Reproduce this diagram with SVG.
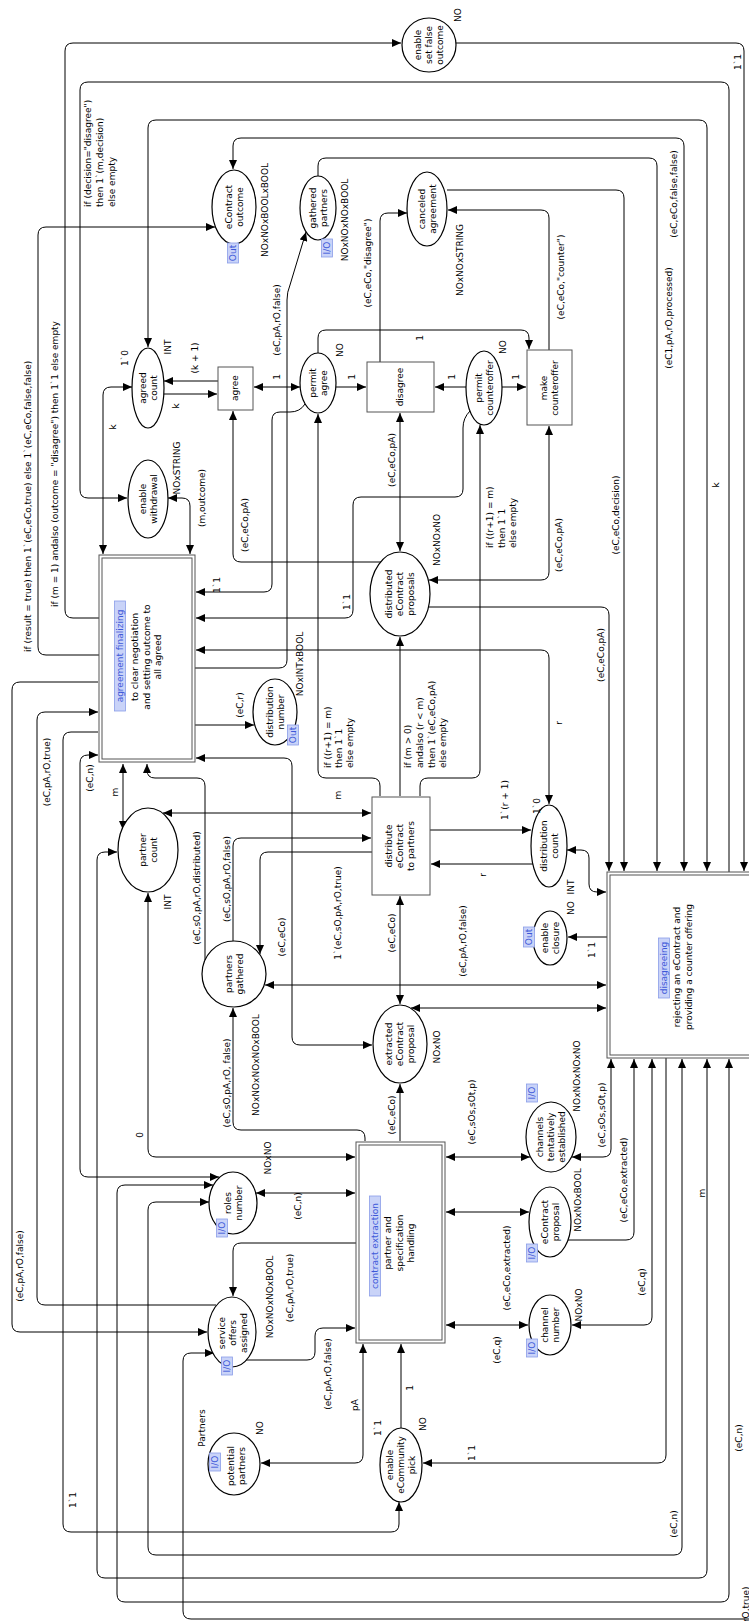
<svg xmlns="http://www.w3.org/2000/svg" width="749" height="1621" viewBox="0 0 749 1621">
<defs>
<marker id="ah" viewBox="0 0 9 8" refX="9" refY="4" markerWidth="9" markerHeight="8" markerUnits="userSpaceOnUse" orient="auto-start-reverse"><path d="M0,0 L9,4 L0,8 z" fill="#000"/></marker>
</defs>
<style>
text{font-family:"DejaVu Sans","Liberation Sans",sans-serif;font-size:9px;fill:#000}
.m{text-anchor:middle}
.s{text-anchor:start}
path.a{fill:none;stroke:#000;stroke-width:1}
.f{marker-end:url(#ah)}
.b{marker-start:url(#ah);marker-end:url(#ah)}
ellipse{fill:#fff;stroke:#000;stroke-width:1.2}
rect.t{fill:#fff;stroke:#555;stroke-width:1}
rect.i{fill:none;stroke:#555;stroke-width:1}
rect.tag{fill:#c9d3f8;stroke:#8a9de8;stroke-width:0.8}
text.tg{fill:#3d58d8}
</style>
<rect width="749" height="1621" fill="#fff"/>

<!-- arcs -->
<g id="arcs">
<path class="a f" d="M99,618 H73 Q65,618 65,610 V51 Q65,43 73,43 H401"/>
<path class="a f" d="M456,43 H736 Q744,43 744,51 V871"/>
<path class="a f" d="M729,872 V90 Q729,82 721,82 H88 Q80,82 80,90 V490 Q80,498 88,498 H127"/>
<path class="a b" d="M707,871 V128 Q707,120 699,120 H156 Q148,120 148,128 V347"/>
<path class="a b" d="M684,871 V146 Q684,138 676,138 H241 Q233,138 233,146 V169"/>
<path class="a f" d="M318,176 V166 Q318,158 326,158 H649 Q657,158 657,166 V871"/>
<path class="a f" d="M447,190 H616 Q624,190 624,198 V871"/>
<path class="a f" d="M549,350 V218 Q549,210 541,210 H448"/>
<path class="a f" d="M380,362 V221 Q380,213 388,213 H407"/>
<path class="a f" d="M318,353 V338 Q318,330 326,330 H521 Q529,330 529,338 V349"/>
<path class="a b" d="M254,387 H300"/>
<path class="a f" d="M336,387 H366"/>
<path class="a f" d="M466,387 H435"/>
<path class="a f" d="M502,387 H526"/>
<path class="a f" d="M218,381 H164"/>
<path class="a f" d="M164,394 H217"/>
<path class="a b" d="M103,554 V395 Q103,387 111,387 H132"/>
<path class="a b" d="M168,498 H182 Q190,498 190,506 V554"/>
<path class="a f" d="M99,655 H46 Q38,655 38,647 V235 Q38,227 46,227 H215"/>
<path class="a f" d="M195,668 H279 Q287,668 287,660 V300 Q287,292 290,285 L306,232"/>
<path class="a f" d="M381,562 H241 Q233,562 233,554 V411"/>
<path class="a f" d="M305,404 Q300,412 290,412 H280 Q272,412 272,420 V584 Q272,592 264,592 H196"/>
<path class="a f" d="M470,411 Q463,418 463,428 V489 Q463,497 455,497 H361 Q353,497 353,505 V610 Q353,618 345,618 H196"/>
<path class="a b" d="M196,650 H541 Q549,650 549,658 V804"/>
<path class="a f" d="M195,725 H254"/>
<path class="a b" d="M196,758 H284 Q292,758 292,766 V1037 Q292,1045 300,1045 H372"/>
<path class="a b" d="M123,830 V764"/>
<path class="a f" d="M205,960 V786 Q205,778 197,778 H155 Q147,778 147,770 V764"/>
<path class="a b" d="M163,813 H371"/>
<path class="a f" d="M233,941 V846 Q233,838 241,838 H371"/>
<path class="a f" d="M372,852 H268 Q260,852 260,860 V954"/>
<path class="a b" d="M400,896 V1004"/>
<path class="a f" d="M400,1141 V1084"/>
<path class="a f" d="M430,830 H531"/>
<path class="a f" d="M533,864 H431"/>
<path class="a b" d="M567,850 H581 Q589,850 589,858 V884 Q589,892 597,892 H606"/>
<path class="a f" d="M607,937 H568"/>
<path class="a b" d="M265,985 H606"/>
<path class="a b" d="M411,1008 H606"/>
<path class="a b" d="M400,413 V551"/>
<path class="a b" d="M549,426 V572 Q549,580 541,580 H429"/>
<path class="a f" d="M429,607 H601 Q609,607 609,615 V871"/>
<path class="a f" d="M380,796 V786 Q380,778 372,778 H326 Q318,778 318,770 V414"/>
<path class="a f" d="M400,796 V637"/>
<path class="a f" d="M420,796 V786 Q420,778 428,778 H472 Q480,778 480,770 V425"/>
<path class="a b" d="M355,1157 H156 Q148,1157 148,1149 V893"/>
<path class="a b" d="M98,755 H88 Q80,755 80,763 V1169 Q80,1177 88,1177 H219"/>
<path class="a f" d="M98,682 H20 Q12,682 12,690 V1324 Q12,1332 20,1332 H207"/>
<path class="a f" d="M216,1305 H45 Q37,1305 37,1297 V720 Q37,712 45,712 H98"/>
<path class="a f" d="M98,732 H71 Q63,732 63,740 V1524 Q63,1532 71,1532 H391 Q399,1532 399,1524 V1502"/>
<path class="a b" d="M707,1059 V1570 Q707,1578 699,1578 H105 Q97,1578 97,1570 V860 Q97,852 105,852 H117"/>
<path class="a b" d="M729,1059 V1594 Q729,1602 721,1602 H125 Q117,1602 117,1594 V1193 Q117,1185 125,1185 H213"/>
<path class="a b" d="M682,1059 V1547 Q682,1555 674,1555 H156 Q148,1555 148,1547 V1210 Q148,1202 156,1202 H209"/>
<path class="a f" d="M752,1619 H191 Q183,1619 183,1611 V1361 Q183,1353 191,1353 H214"/>
<path class="a f" d="M666,1058 V1455 Q666,1463 658,1463 H423"/>
<path class="a b" d="M363,1344 V1455 Q363,1463 355,1463 H261"/>
<path class="a f" d="M401,1428 V1344"/>
<path class="a f" d="M246,1360 H307 Q315,1360 315,1352 V1336 Q315,1328 323,1328 H355"/>
<path class="a f" d="M356,1243 H241 Q233,1243 233,1251 V1296"/>
<path class="a b" d="M256,1193 H355"/>
<path class="a f" d="M365,1141 V1138 Q365,1130 357,1130 H241 Q233,1130 233,1122 V1008"/>
<path class="a b" d="M446,1157 H530"/>
<path class="a b" d="M572,1157 H603 Q611,1157 611,1149 V1059"/>
<path class="a b" d="M446,1212 H529"/>
<path class="a f" d="M568,1240 H626 Q634,1240 634,1232 V1059"/>
<path class="a b" d="M446,1325 H528"/>
<path class="a b" d="M652,1059 V1317 Q652,1325 644,1325 H572"/>
</g>

<!-- arc inscriptions -->
<g id="arc-labels">
<text class="s" transform="translate(55,607) rotate(-90)" y="3">if (m = 1)  andalso (outcome = "disagree")  then 1`1 else empty</text>
<text class="s" transform="translate(28,652) rotate(-90)" y="3">if (result = true) then 1`(eC,eCo,true) else 1`(eC,eCo,false,false)</text>
<text class="s" transform="translate(100,207) rotate(-90)"><tspan x="0" y="-9">if (decision="disagree")</tspan><tspan x="0" y="3">then 1`(m,decision)</tspan><tspan x="0" y="15">else empty</tspan></text>
<text class="m" transform="translate(738,62) rotate(-90)" y="3">1`1</text>
<text class="m" transform="translate(674,194) rotate(-90)" y="3">(eC,eCo,false,false)</text>
<text class="m" transform="translate(669,318) rotate(-90)" y="3">(eC1,pA,rO,processed)</text>
<text class="m" transform="translate(561,277) rotate(-90)" y="3">(eC,eCo,"counter")</text>
<text class="m" transform="translate(368,263) rotate(-90)" y="3">(eC,eCo,"disagree")</text>
<text class="m" transform="translate(277,320) rotate(-90)" y="3">(eC,pA,rO,false)</text>
<text class="m" transform="translate(616,515) rotate(-90)" y="3">(eC,eCo,decision)</text>
<text class="m" transform="translate(716,485) rotate(-90)" y="3">k</text>
<text class="m" transform="translate(195,358) rotate(-90)" y="3">(k + 1)</text>
<text class="m" transform="translate(176,406) rotate(-90)" y="3">k</text>
<text class="m" transform="translate(113,427) rotate(-90)" y="3">k</text>
<text class="m" transform="translate(277,377) rotate(-90)" y="3">1</text>
<text class="m" transform="translate(352,377) rotate(-90)" y="3">1</text>
<text class="m" transform="translate(452,377) rotate(-90)" y="3">1</text>
<text class="m" transform="translate(516,377) rotate(-90)" y="3">1</text>
<text class="m" transform="translate(420,338) rotate(-90)" y="3">1</text>
<text class="m" transform="translate(202,498) rotate(-90)" y="3">(m,outcome)</text>
<text class="m" transform="translate(245,525) rotate(-90)" y="3">(eC,eCo,pA)</text>
<text class="m" transform="translate(392,460) rotate(-90)" y="3">(eC,eCo,pA)</text>
<text class="m" transform="translate(559,545) rotate(-90)" y="3">(eC,eCo,pA)</text>
<text class="m" transform="translate(601,655) rotate(-90)" y="3">(eC,eCo,pA)</text>
<text class="m" transform="translate(217,585) rotate(-90)" y="3">1`1</text>
<text class="m" transform="translate(347,602) rotate(-90)" y="3">1`1</text>
<text class="m" transform="translate(240,705) rotate(-90)" y="3">(eC,r)</text>
<text class="m" transform="translate(559,723) rotate(-90)" y="3">r</text>
<text class="s" transform="translate(328,768) rotate(-90)"><tspan x="0" y="3">if ((r+1) = m)</tspan><tspan x="0" y="14">then 1`1</tspan><tspan x="0" y="25">else empty</tspan></text>
<text class="s" transform="translate(400,768) rotate(-90)"><tspan x="0" y="11">if (m &gt; 0)</tspan><tspan x="0" y="23">andalso (r &lt; m)</tspan><tspan x="0" y="35">then 1`(eC,eCo,pA)</tspan><tspan x="0" y="46">else empty</tspan></text>
<text class="s" transform="translate(480,548) rotate(-90)"><tspan x="0" y="13">if ((r+1) = m)</tspan><tspan x="0" y="25">then 1`1</tspan><tspan x="0" y="36">else empty</tspan></text>
<text class="m" transform="translate(338,795) rotate(-90)" y="3">m</text>
<text class="m" transform="translate(115,792) rotate(-90)" y="3">m</text>
<text class="m" transform="translate(90,778) rotate(-90)" y="3">(eC,n)</text>
<text class="m" transform="translate(47,772) rotate(-90)" y="3">(eC,pA,rO,true)</text>
<text class="m" transform="translate(505,800) rotate(-90)" y="3">1`(r + 1)</text>
<text class="m" transform="translate(483,875) rotate(-90)" y="3">r</text>
<text class="m" transform="translate(197,888) rotate(-90)" y="3">(eC,sO,pA,rO,distributed)</text>
<text class="m" transform="translate(227,879) rotate(-90)" y="3">(eC,sO,pA,rO,false)</text>
<text class="m" transform="translate(282,937) rotate(-90)" y="3">(eC,eCo)</text>
<text class="m" transform="translate(338,913) rotate(-90)" y="3">1`(eC,sO,pA,rO,true)</text>
<text class="m" transform="translate(392,933) rotate(-90)" y="3">(eC,eCo)</text>
<text class="m" transform="translate(463,941) rotate(-90)" y="3">(eC,pA,rO,false)</text>
<text class="m" transform="translate(592,950) rotate(-90)" y="3">1`1</text>
<text class="m" transform="translate(227,1083) rotate(-90)" y="3">(eC,sO,pA,rO, false)</text>
<text class="m" transform="translate(140,1135) rotate(-90)" y="3">0</text>
<text class="m" transform="translate(392,1115) rotate(-90)" y="3">(eC,eCo)</text>
<text class="m" transform="translate(472,1112) rotate(-90)" y="3">(eC,sOs,sOt,p)</text>
<text class="m" transform="translate(602,1115) rotate(-90)" y="3">(eC,sOs,sOt,p)</text>
<text class="m" transform="translate(624,1180) rotate(-90)" y="3">(eC,eCo,extracted)</text>
<text class="m" transform="translate(298,1206) rotate(-90)" y="3">(eC,n)</text>
<text class="m" transform="translate(507,1268) rotate(-90)" y="3">(eC,eCo,extracted)</text>
<text class="m" transform="translate(497,1350) rotate(-90)" y="3">(eC,q)</text>
<text class="m" transform="translate(642,1282) rotate(-90)" y="3">(eC,q)</text>
<text class="m" transform="translate(290,1288) rotate(-90)" y="3">(eC,pA,rO,true)</text>
<text class="m" transform="translate(328,1374) rotate(-90)" y="3">(eC,pA,rO,false)</text>
<text class="m" transform="translate(355,1405) rotate(-90)" y="3">pA</text>
<text class="m" transform="translate(410,1388) rotate(-90)" y="3">1</text>
<text class="m" transform="translate(472,1453) rotate(-90)" y="3">1`1</text>
<text class="m" transform="translate(20,1266) rotate(-90)" y="3">(eC,pA,rO,false)</text>
<text class="m" transform="translate(73,1500) rotate(-90)" y="3">1`1</text>
<text class="m" transform="translate(674,1524) rotate(-90)" y="3">(eC,n)</text>
<text class="m" transform="translate(739,1438) rotate(-90)" y="3">(eC,n)</text>
<text class="m" transform="translate(702,1193) rotate(-90)" y="3">m</text>
<text class="s" transform="translate(746,1655) rotate(-90)" y="3">(eC,pA,rO,true)</text>
</g>

<!-- places -->
<g id="p-enable-set-false-outcome">
<ellipse cx="429" cy="45" rx="27" ry="27"/>
<text class="m" transform="translate(429,45) rotate(-90)"><tspan x="0" y="-8">enable</tspan><tspan x="0" y="3">set false</tspan><tspan x="0" y="14">outcome</tspan></text>
<text class="m" transform="translate(458,15) rotate(-90)" y="3">NO</text>
</g>
<g id="p-econtract-outcome">
<ellipse cx="234" cy="207" rx="22" ry="37"/>
<text class="m" transform="translate(234,207) rotate(-90)"><tspan x="0" y="-2.5">eContract</tspan><tspan x="0" y="8.5">outcome</tspan></text>
<g transform="translate(233,253) rotate(-90)"><rect class="tag" x="-10" y="-5.5" width="20" height="11"/><text class="m tg" y="3">Out</text></g>
<text class="m" transform="translate(265,210) rotate(-90)" y="3">NOxNOxBOOLxBOOL</text>
</g>
<g id="p-gathered-partners">
<ellipse cx="318" cy="208" rx="18" ry="32"/>
<text class="m" transform="translate(318,208) rotate(-90)"><tspan x="0" y="-2.5">gathered</tspan><tspan x="0" y="8.5">partners</tspan></text>
<g transform="translate(327,248) rotate(-90)"><rect class="tag" x="-9" y="-5.5" width="18" height="11"/><text class="m tg" y="3">I/O</text></g>
<text class="m" transform="translate(345,220) rotate(-90)" y="3">NOxNOxNOxBOOL</text>
</g>
<g id="p-canceled-agreement">
<ellipse cx="427" cy="209" rx="20" ry="37"/>
<text class="m" transform="translate(427,209) rotate(-90)"><tspan x="0" y="-2.5">canceled</tspan><tspan x="0" y="8.5">agreement</tspan></text>
<text class="m" transform="translate(460,260) rotate(-90)" y="3">NOxNOxSTRING</text>
</g>
<g id="p-agreed-count">
<ellipse cx="148" cy="388" rx="16" ry="40"/>
<text class="m" transform="translate(148,388) rotate(-90)"><tspan x="0" y="-2.5">agreed</tspan><tspan x="0" y="8.5">count</tspan></text>
<text class="m" transform="translate(125,358) rotate(-90)" y="3">1`0</text>
<text class="m" transform="translate(168,347) rotate(-90)" y="3">INT</text>
</g>
<g id="p-permit-agree">
<ellipse cx="318" cy="383" rx="18" ry="30"/>
<text class="m" transform="translate(318,383) rotate(-90)"><tspan x="0" y="-2.5">permit</tspan><tspan x="0" y="8.5">agree</tspan></text>
<text class="m" transform="translate(340,350) rotate(-90)" y="3">NO</text>
</g>
<g id="p-permit-counteroffer">
<ellipse cx="484" cy="388" rx="18" ry="37"/>
<text class="m" transform="translate(484,388) rotate(-90)"><tspan x="0" y="-2.5">permit</tspan><tspan x="0" y="8.5">counteroffer</tspan></text>
<text class="m" transform="translate(503,347) rotate(-90)" y="3">NO</text>
</g>
<g id="p-enable-withdrawal">
<ellipse cx="148" cy="499" rx="20" ry="39"/>
<text class="m" transform="translate(148,499) rotate(-90)"><tspan x="0" y="-2.5">enable</tspan><tspan x="0" y="8.5">withdrawal</tspan></text>
<text class="m" transform="translate(177,468) rotate(-90)" y="3">NOxSTRING</text>
</g>
<g id="p-distributed-proposals">
<ellipse cx="400" cy="594" rx="30" ry="42"/>
<text class="m" transform="translate(400,594) rotate(-90)"><tspan x="0" y="-8">distributed</tspan><tspan x="0" y="3">eContract</tspan><tspan x="0" y="14">proposals</tspan></text>
<text class="m" transform="translate(437,540) rotate(-90)" y="3">NOxNOxNO</text>
</g>
<g id="p-distribution-number">
<ellipse cx="275" cy="712" rx="22" ry="33"/>
<text class="m" transform="translate(275,712) rotate(-90)"><tspan x="0" y="-2.5">distribution</tspan><tspan x="0" y="8.5">number</tspan></text>
<g transform="translate(293,735) rotate(-90)"><rect class="tag" x="-10" y="-5.5" width="20" height="11"/><text class="m tg" y="3">Out</text></g>
<text class="m" transform="translate(300,664) rotate(-90)" y="3">NOxINTxBOOL</text>
</g>
<g id="p-distribution-count">
<ellipse cx="549" cy="846" rx="18" ry="41"/>
<text class="m" transform="translate(549,846) rotate(-90)"><tspan x="0" y="-2.5">distribution</tspan><tspan x="0" y="8.5">count</tspan></text>
<text class="m" transform="translate(537,806) rotate(-90)" y="3">1`0</text>
<text class="m" transform="translate(571,887) rotate(-90)" y="3">INT</text>
</g>
<g id="p-partner-count">
<ellipse cx="148" cy="850" rx="30" ry="42"/>
<text class="m" transform="translate(148,850) rotate(-90)"><tspan x="0" y="-2.5">partner</tspan><tspan x="0" y="8.5">count</tspan></text>
<text class="m" transform="translate(168,902) rotate(-90)" y="3">INT</text>
</g>
<g id="p-partners-gathered">
<ellipse cx="234" cy="974" rx="32" ry="33"/>
<text class="m" transform="translate(234,974) rotate(-90)"><tspan x="0" y="-2.5">partners</tspan><tspan x="0" y="8.5">gathered</tspan></text>
<text class="m" transform="translate(256,1065) rotate(-90)" y="3">NOxNOxNOxNOxBOOL</text>
</g>
<g id="p-extracted-proposal">
<ellipse cx="400" cy="1044" rx="27" ry="39"/>
<text class="m" transform="translate(400,1044) rotate(-90)"><tspan x="0" y="-8">extracted</tspan><tspan x="0" y="3">eContract</tspan><tspan x="0" y="14">proposal</tspan></text>
<text class="m" transform="translate(437,1047) rotate(-90)" y="3">NOxNO</text>
</g>
<g id="p-roles-number">
<ellipse cx="233" cy="1203" rx="24" ry="31"/>
<text class="m" transform="translate(233,1203) rotate(-90)"><tspan x="0" y="-2.5">roles</tspan><tspan x="0" y="8.5">number</tspan></text>
<g transform="translate(222,1228) rotate(-90)"><rect class="tag" x="-9" y="-5.5" width="18" height="11"/><text class="m tg" y="3">I/O</text></g>
<text class="m" transform="translate(268,1158) rotate(-90)" y="3">NOxNO</text>
</g>
<g id="p-service-offers-assigned">
<ellipse cx="232" cy="1332" rx="24" ry="35"/>
<text class="m" transform="translate(233,1333) rotate(-90)"><tspan x="0" y="-8">service</tspan><tspan x="0" y="3">offers</tspan><tspan x="0" y="14">assigned</tspan></text>
<g transform="translate(227,1366) rotate(-90)"><rect class="tag" x="-9" y="-5.5" width="18" height="11"/><text class="m tg" y="3">I/O</text></g>
<text class="m" transform="translate(270,1297) rotate(-90)" y="3">NOxNOxNOxBOOL</text>
</g>
<g id="p-potential-partners">
<ellipse cx="234" cy="1464" rx="26" ry="31"/>
<text class="m" transform="translate(236,1466) rotate(-90)"><tspan x="0" y="-2.5">potential</tspan><tspan x="0" y="8.5">partners</tspan></text>
<g transform="translate(215,1462) rotate(-90)"><rect class="tag" x="-9" y="-5.5" width="18" height="11"/><text class="m tg" y="3">I/O</text></g>
<text class="m" transform="translate(202,1428) rotate(-90)" y="3">Partners</text>
<text class="m" transform="translate(260,1428) rotate(-90)" y="3">NO</text>
</g>
<g id="p-enable-ecommunity-pick">
<ellipse cx="401" cy="1465" rx="21" ry="37"/>
<text class="m" transform="translate(401,1465) rotate(-90)"><tspan x="0" y="-8">enable</tspan><tspan x="0" y="3">eCommunity</tspan><tspan x="0" y="14">pick</tspan></text>
<text class="m" transform="translate(378,1428) rotate(-90)" y="3">1`1</text>
<text class="m" transform="translate(423,1424) rotate(-90)" y="3">NO</text>
</g>
<g id="p-channels-established">
<ellipse cx="551" cy="1137" rx="25" ry="35"/>
<text class="m" transform="translate(551,1137) rotate(-90)"><tspan x="0" y="-8">channels</tspan><tspan x="0" y="3">tentatively</tspan><tspan x="0" y="14">established</tspan></text>
<g transform="translate(532,1093) rotate(-90)"><rect class="tag" x="-9" y="-5.5" width="18" height="11"/><text class="m tg" y="3">I/O</text></g>
<text class="m" transform="translate(577,1076) rotate(-90)" y="3">NOxNOxNOxNO</text>
</g>
<g id="p-econtract-proposal">
<ellipse cx="550" cy="1222" rx="21" ry="35"/>
<text class="m" transform="translate(550,1222) rotate(-90)"><tspan x="0" y="-2.5">eContract</tspan><tspan x="0" y="8.5">proposal</tspan></text>
<g transform="translate(532,1253) rotate(-90)"><rect class="tag" x="-9" y="-5.5" width="18" height="11"/><text class="m tg" y="3">I/O</text></g>
<text class="m" transform="translate(578,1200) rotate(-90)" y="3">NOxNOxBOOL</text>
</g>
<g id="p-channel-number">
<ellipse cx="550" cy="1325" rx="21" ry="30"/>
<text class="m" transform="translate(550,1325) rotate(-90)"><tspan x="0" y="-2.5">channel</tspan><tspan x="0" y="8.5">number</tspan></text>
<g transform="translate(532,1348) rotate(-90)"><rect class="tag" x="-9" y="-5.5" width="18" height="11"/><text class="m tg" y="3">I/O</text></g>
<text class="m" transform="translate(579,1305) rotate(-90)" y="3">NOxNO</text>
</g>
<g id="p-enable-closure">
<ellipse cx="550" cy="938" rx="17" ry="27"/>
<text class="m" transform="translate(550,938) rotate(-90)"><tspan x="0" y="-2.5">enable</tspan><tspan x="0" y="8.5">closure</tspan></text>
<g transform="translate(529,937) rotate(-90)"><rect class="tag" x="-10" y="-5.5" width="20" height="11"/><text class="m tg" y="3">Out</text></g>
<text class="m" transform="translate(571,908) rotate(-90)" y="3">NO</text>
</g>

<!-- transitions -->
<g id="t-agree">
<rect class="t" x="218" y="367" width="35" height="43"/>
<text class="m" transform="translate(235,388) rotate(-90)" y="3">agree</text>
</g>
<g id="t-disagree">
<rect class="t" x="367" y="362" width="67" height="50"/>
<text class="m" transform="translate(400,387) rotate(-90)" y="3">disagree</text>
</g>
<g id="t-make-counteroffer">
<rect class="t" x="527" y="350" width="45" height="75"/>
<text class="m" transform="translate(549,388) rotate(-90)"><tspan x="0" y="-2.5">make</tspan><tspan x="0" y="8.5">counteroffer</tspan></text>
</g>
<g id="t-agreement-finalizing">
<rect class="t" x="99" y="555" width="96" height="207"/>
<rect class="i" x="102" y="558" width="90" height="201"/>
<g transform="translate(120,656) rotate(-90)"><rect class="tag" x="-55" y="-5.5" width="110" height="11"/><text class="m tg" y="3">agreement finalizing</text></g>
<text class="m" transform="translate(147,657) rotate(-90)"><tspan x="0" y="-9">to clear negotiation</tspan><tspan x="0" y="3">and setting outcome to</tspan><tspan x="0" y="14">all agreed</tspan></text>
</g>
<g id="t-distribute">
<rect class="t" x="372" y="797" width="58" height="98"/>
<text class="m" transform="translate(400,846) rotate(-90)"><tspan x="0" y="-8">distribute</tspan><tspan x="0" y="3">eContract</tspan><tspan x="0" y="14">to partners</tspan></text>
</g>
<g id="t-contract-extraction">
<rect class="t" x="356" y="1142" width="89" height="201"/>
<rect class="i" x="359" y="1145" width="83" height="195"/>
<g transform="translate(375,1246) rotate(-90)"><rect class="tag" x="-50" y="-5.5" width="100" height="11"/><text class="m tg" y="3">contract extraction</text></g>
<text class="m" transform="translate(400,1243) rotate(-90)"><tspan x="0" y="-9">partner and</tspan><tspan x="0" y="3">specification</tspan><tspan x="0" y="14">handling</tspan></text>
</g>
<g id="t-disagreeing">
<rect class="t" x="607" y="872" width="155" height="186"/>
<rect class="i" x="610" y="875" width="149" height="180"/>
<g transform="translate(664,968) rotate(-90)"><rect class="tag" x="-30" y="-5.5" width="60" height="11"/><text class="m tg" y="3">disagreeing</text></g>
<text class="m" transform="translate(683,967) rotate(-90)"><tspan x="0" y="-3">rejecting an eContract and</tspan><tspan x="0" y="9">providing a counter offering</tspan></text>
</g>
</svg>
